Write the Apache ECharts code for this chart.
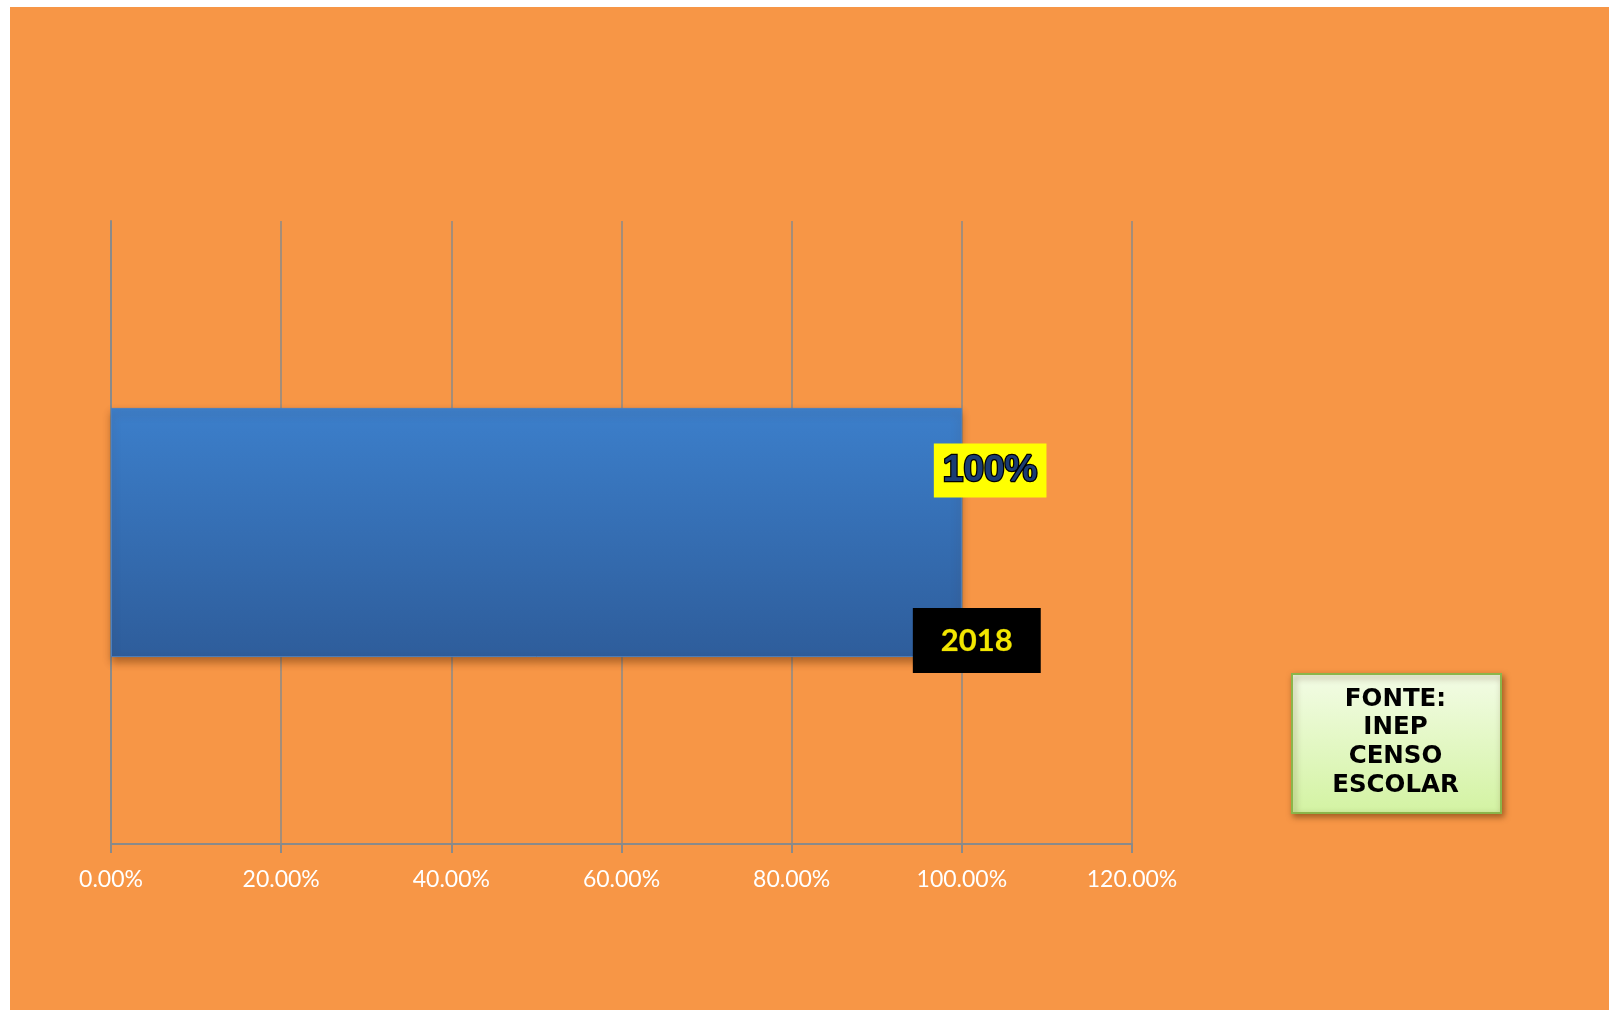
<!DOCTYPE html>
<html>
<head>
<meta charset="utf-8">
<script src="https://cdn.jsdelivr.net/npm/echarts@6/dist/echarts.min.js"></script>
<style>
html,body{margin:0;padding:0;background:#ffffff;width:1609px;height:1010px;overflow:hidden;}
#chart{position:absolute;left:10px;top:7px;width:1599px;height:1003px;}
</style>
</head>
<body>
<div id="chart"></div>
<script>
var categories = ['2018'];
var values = [1.0];
var tickValues = [0, 0.2, 0.4, 0.6, 0.8, 1.0, 1.2];
var sourceLines = ['FONTE:', 'INEP', 'CENSO', 'ESCOLAR'];

var chart = echarts.init(document.getElementById('chart'));
var gridColor = '#8a8a8a';
var option = {
  backgroundColor: '#F79646',
  animation: false,
  grid: {left: 101, right: 477, top: 214, bottom: 166, containLabel: false},
  xAxis: {
    type: 'value', min: 0, max: 1.2, interval: 0.2,
    axisLine: {show: true, lineStyle: {color: gridColor, width: 2}},
    axisTick: {show: true, length: 9, lineStyle: {color: gridColor, width: 2}},
    splitLine: {show: true, lineStyle: {color: gridColor, width: 1.5}},
    axisLabel: {
      color: '#ffffff', fontFamily: 'Lato', fontSize: 23, margin: 24,
      formatter: function (v) { return (v * 100).toFixed(2) + '%'; }
    }
  },
  yAxis: {
    type: 'category', data: categories,
    axisLine: {show: true, lineStyle: {color: gridColor, width: 2}},
    axisTick: {show: false},
    axisLabel: {show: false},
    splitLine: {show: false}
  },
  series: [
    {
      type: 'bar', data: values, barCategoryGap: '60%', barGap: '-100%', z: 2,
      itemStyle: {
        color: new echarts.graphic.LinearGradient(0, 0, 0, 1, [
          {offset: 0, color: '#3C7FCB'},
          {offset: 1, color: '#2E5D9B'}
        ]),
        borderColor: '#4a7fbf', borderWidth: 1,
        shadowColor: 'rgba(90,40,0,0.45)', shadowBlur: 8, shadowOffsetY: 5
      },
      label: {
        show: true, position: 'right', distance: 5, offset: [-33, -62],
        formatter: function (p) { return Math.round(p.value * 100) + '%'; },
        backgroundColor: '#FFFF00', padding: [12, 9, 6, 9],
        fontFamily: 'Liberation Sans', fontWeight: 'bold', fontSize: 37, lineHeight: 36,
        color: '#1B3C73', textBorderColor: '#000000', textBorderWidth: 2.5
      }
    },
    {
      type: 'bar', data: values, barCategoryGap: '60%', barGap: '-100%', z: 3,
      itemStyle: {color: 'rgba(0,0,0,0)'},
      label: {
        show: true, position: 'right', distance: 5, offset: [-54, 108],
        formatter: '{b}',
        backgroundColor: '#000000', padding: [14, 28, 13, 28],
        fontFamily: 'Lato', fontWeight: 'bold', fontSize: 31, lineHeight: 38,
        color: '#F2E600', textBorderColor: '#6b6300', textBorderWidth: 0.5
      }
    }
  ],
  graphic: [
    {
      type: 'rect', left: 1281, top: 666,
      shape: {width: 209, height: 139},
      style: {
        fill: new echarts.graphic.LinearGradient(0, 0, 0, 1, [
          {offset: 0, color: '#F3FCE6'},
          {offset: 1, color: '#D3F3A2'}
        ]),
        stroke: '#8BB54A', lineWidth: 2,
        shadowColor: 'rgba(80,40,0,0.5)', shadowBlur: 6, shadowOffsetX: 2, shadowOffsetY: 3
      }
    },
    {
      type: 'text', x: 1281 + 104.5, y: 678,
      style: {
        text: sourceLines.join('\n'),
        fontFamily: 'DejaVu Sans', fontWeight: 'bold', fontSize: 24.5, lineHeight: 28.7,
        fill: '#000000', align: 'center', textAlign: 'center'
      }
    }
  ]
};
chart.setOption(option);
</script>
</body>
</html>
